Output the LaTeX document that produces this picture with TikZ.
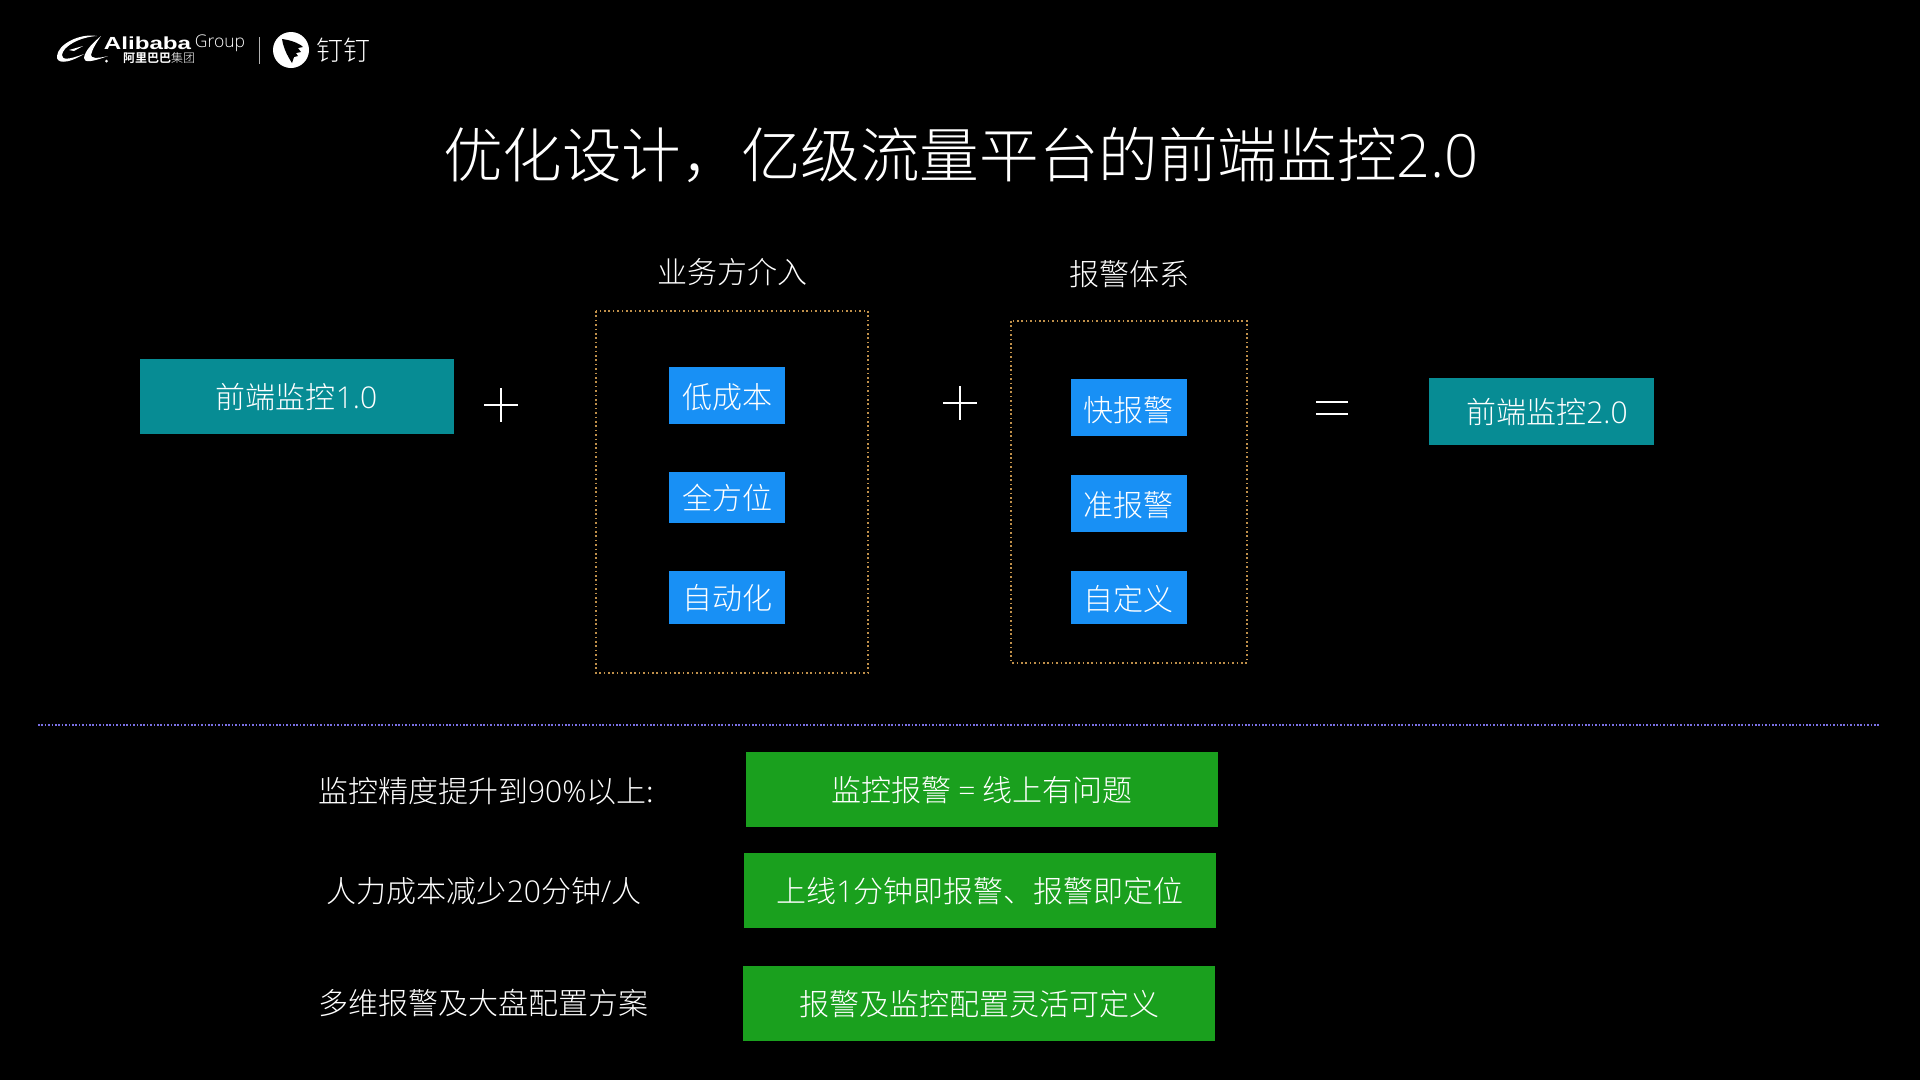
\documentclass[tikz,border=0pt]{standalone}
\usepackage{fontspec}
\usepackage{xcolor}
\usetikzlibrary{positioning}
\setmainfont{Noto Sans CJK SC Light}
\newfontfamily\cjkbold{Noto Sans CJK SC Bold}
\newfontfamily\latinbold{Liberation Sans Bold}
\newfontfamily\latinlight{Open Sans Light}
\newcommand{\dgt}[1]{{\latinlight #1}}
\definecolor{slidebg}{HTML}{000000}
\definecolor{tealfill}{HTML}{078C94}
\definecolor{bluefill}{HTML}{1890F5}
\definecolor{greenfill}{HTML}{1AA01E}
\definecolor{dotorange}{HTML}{C0904A}
\definecolor{dotpurple}{HTML}{7A70E4}

\begin{document}
\begin{tikzpicture}[
  x=1pt,y=-1pt,
  caption/.style={inner sep=0pt,text=white,font=\fontsize{30}{32}\selectfont,text height=26pt,text depth=2pt},
  tealbox/.style={caption,fill=tealfill},
  bluebox/.style={caption,fill=bluefill,minimum width=116pt},
  greenbox/.style={caption,fill=greenfill,minimum width=472pt,minimum height=75pt},
  dotbox/.style={draw=dotorange,line width=1.6pt,dash pattern=on 1.6pt off 2.8pt},
  sign/.style={draw=white,line width=2pt}
]
\fill[slidebg] (0,0) rectangle (1920,1080);
\useasboundingbox (0,0) rectangle (1920,1080);

% logo
\fill[white] (97,36) .. controls (80,33) and (58,44) .. (57,56) .. controls (56,63) and (66,65) .. (84,54)
  .. controls (68,60) and (62,60) .. (62,55) .. controls (63,46) and (80,37) .. (97,36) -- cycle;
\fill[white] (69,50) -- (83,46) -- (74,51) -- cycle;
\fill[white] (101,36) .. controls (94,42) and (85,50) .. (84,58) .. controls (84,63) and (92,62) .. (108,56)
  .. controls (96,59) and (91,58) .. (91,55) .. controls (92,50) and (96,43) .. (101,36) -- cycle;
\fill[white] (106.5,61) circle (1.5);
\node[inner sep=0pt,text=white,font=\latinbold\fontsize{17.5}{20}\selectfont,xscale=1.38] (alibaba) at (147.5,43) {Alibaba};
\node[inner sep=0pt,text=white,font=\latinlight\fontsize{17.5}{20}\selectfont] (group) at (220,43) {Group};
\node[inner sep=0pt,text=white,font=\fontsize{12}{13}\selectfont] (alibabacn) at (159,58.5) {{\cjkbold 阿里巴巴}集团};
\draw[white!70!black,line width=1pt] (259,37) -- (259,64);
\fill[white] (291,50) circle (18);
\fill[black] (282,39) .. controls (290,40) and (299,43) .. (303,47) -- (298,48) -- (301,52) -- (296,53)
  -- (298,56) -- (294,57) -- (292,63) -- (289,58) .. controls (286,53) and (283,46) .. (282,39) -- cycle;
\node[inner sep=0pt,text=white,font=\fontsize{27}{28}\selectfont] (dingding) at (343,50) {钉钉};

% title
\node[inner sep=0pt,text=white,font=\fontsize{59.6}{62}\selectfont] (title) at (961,155) {优化设计，亿级流量平台的前端监控\dgt{2.0}};

% top row
\node[tealbox,minimum width=314pt,minimum height=75pt] (front1) at (296.5,396) {前端监控\dgt{1.0}};
\node[caption] (bizhead) at (732,271.5) {业务方介入};
\node[caption] (alarmhead) at (1129,273.5) {报警体系};
\draw[dotbox] (596,311) rectangle (868,673);
\draw[dotbox] (1011,321) rectangle (1247,663);

\node[bluebox,minimum height=57pt,text height=28pt] (lowcost) at (727,395.5) {低成本};
\node[bluebox,minimum height=51pt] (allround) at (727,497.5) {全方位};
\node[bluebox,minimum height=53pt] (auto) at (727,597.5) {自动化};
\node[bluebox,minimum height=57pt,text height=29pt] (fast) at (1128.5,407.5) {快报警};
\node[bluebox,minimum height=57pt,text height=27pt] (exact) at (1128.5,503.5) {准报警};
\node[bluebox,minimum height=53pt,text height=27pt] (custom) at (1128.5,597.5) {自定义};

\node[tealbox,minimum width=225pt,minimum height=67pt] (front2) at (1541.5,411.5) {\hspace*{11pt}前端监控\dgt{2.0}};

\draw[sign] (484,405) -- (518,405) (501,388) -- (501,422);
\draw[sign] (943,403) -- (977,403) (960,386) -- (960,420);
\draw[sign] (1316,402) -- (1348,402) (1316,414) -- (1348,414);

% divider
\draw[dotpurple,line width=1.6pt,dash pattern=on 1.6pt off 1.8pt] (38,725) -- (1880,725);

% bottom rows
\node[caption] (precision) at (486,790) {监控精度提升到\dgt{90\%}以上:};
\node[caption] (labour) at (484,890) {人力成本减少\dgt{20}分钟\dgt{/}人};
\node[caption] (multi) at (483,1002) {多维报警及大盘配置方案};
\node[greenbox] (rowone) at (982,789.5) {监控报警 \dgt{=} 线上有问题};
\node[greenbox] (rowtwo) at (980,890) {上线\dgt{1}分钟即报警、报警即定位};
\node[greenbox] (rowthree) at (979,1003) {报警及监控配置灵活可定义};
\end{tikzpicture}
\end{document}
